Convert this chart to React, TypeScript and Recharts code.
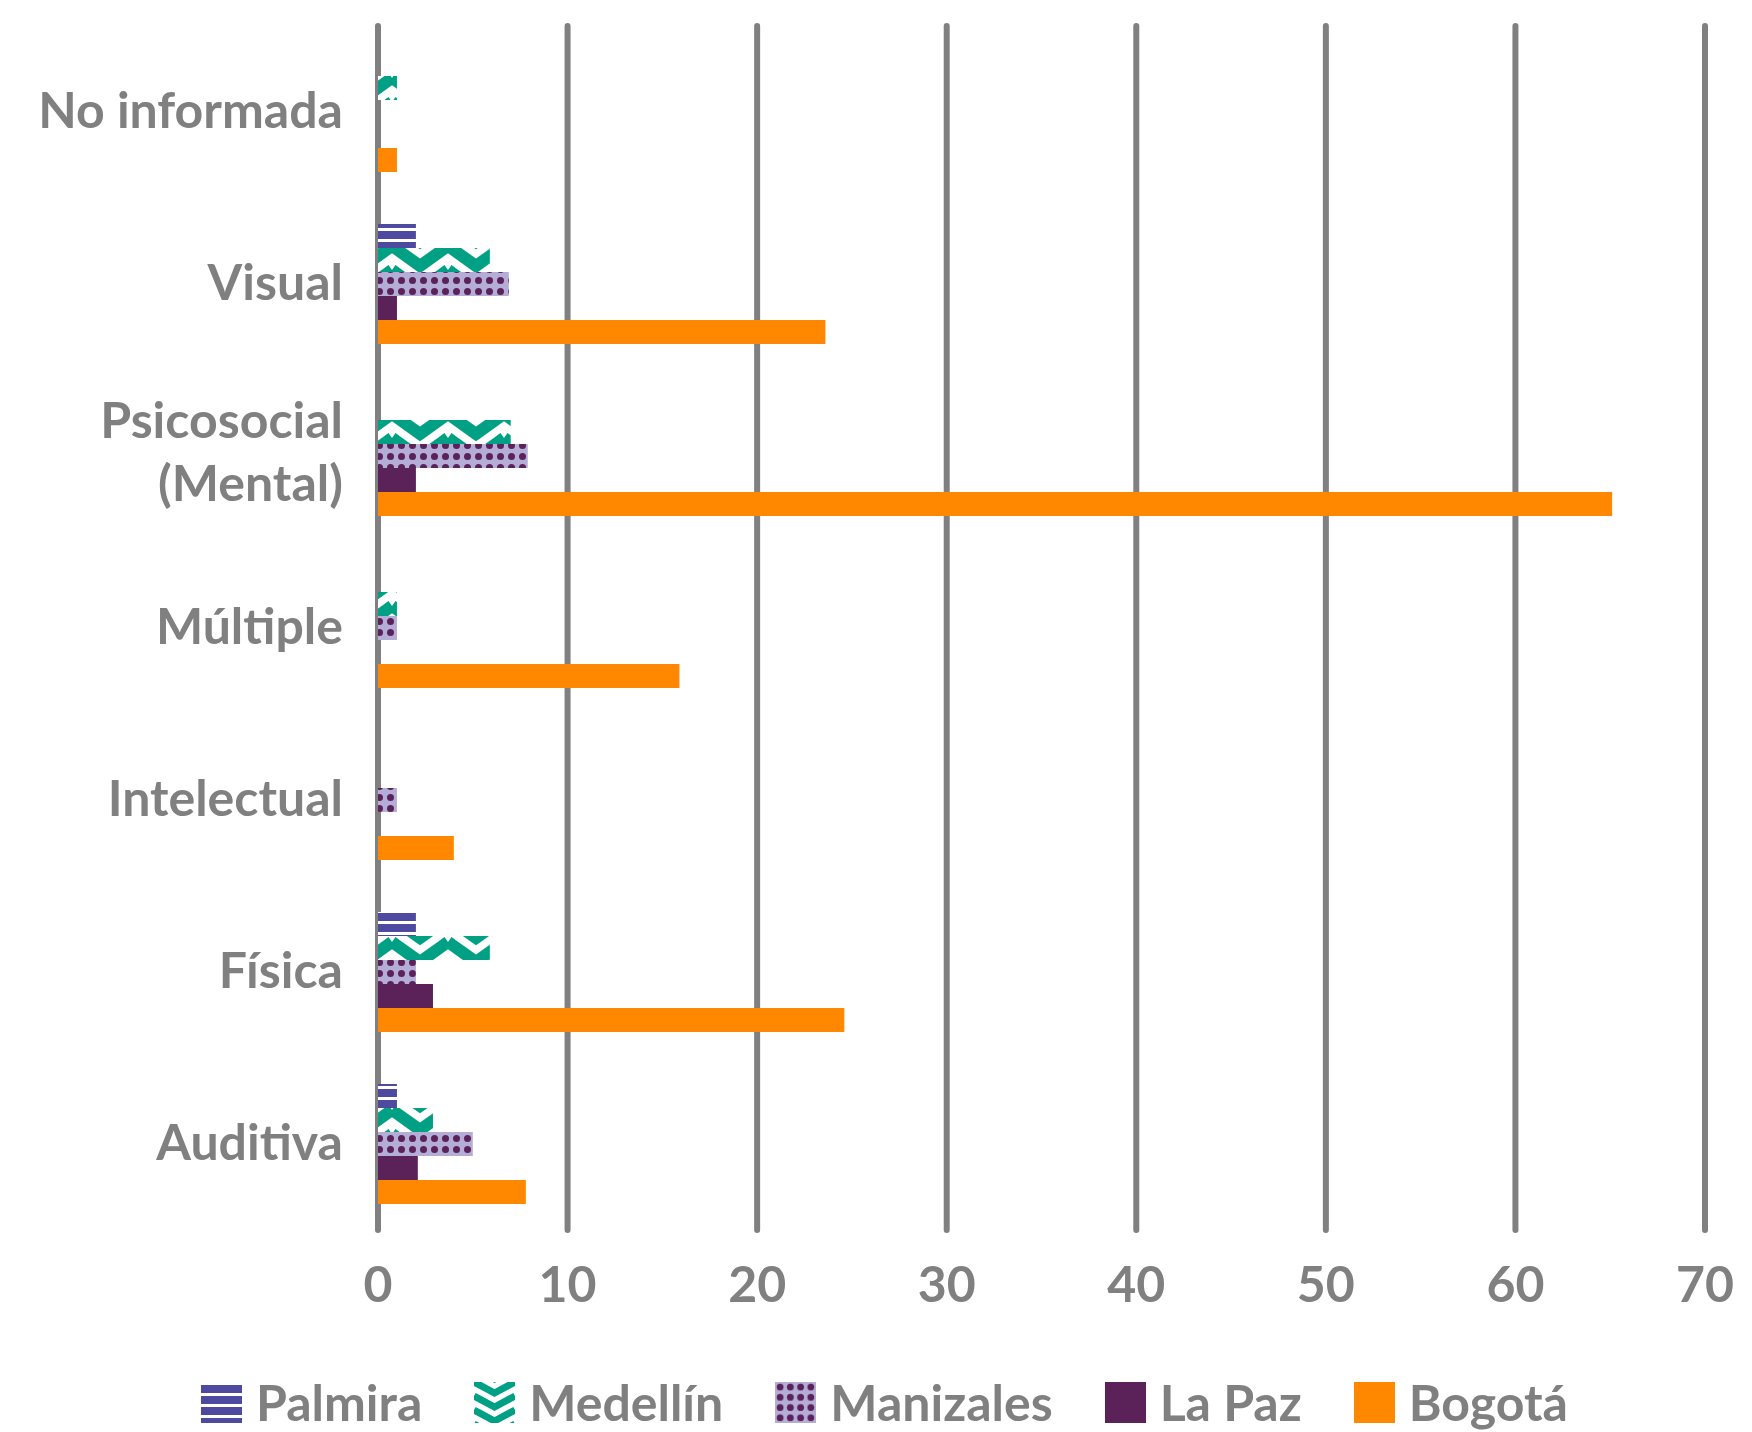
import React from 'react';
import { BarChart, Bar, XAxis, YAxis, CartesianGrid, Legend } from 'recharts';

const categories = ['No informada', 'Visual', 'Psicosocial (Mental)', 'Múltiple', 'Intelectual', 'Física', 'Auditiva'];
const palmira = [0, 2.0, 0, 0, 0, 2.0, 1.0];
const medellin = [1.0, 5.9, 7.0, 1.0, 0, 5.9, 2.9];
const manizales = [0, 6.9, 7.9, 1.0, 1.0, 2.0, 5.0];
const laPaz = [0, 1.0, 2.0, 0, 0, 2.9, 2.1];
const bogota = [1.0, 23.6, 65.1, 15.9, 4.0, 24.6, 7.8];
const xTicks = [0, 10, 20, 30, 40, 50, 60, 70];
const seriesNames = ['Palmira', 'Medellín', 'Manizales', 'La Paz', 'Bogotá'];

const data = categories.map((name, i) => ({
  name,
  Palmira: palmira[i],
  'Medellín': medellin[i],
  Manizales: manizales[i],
  'La Paz': laPaz[i],
  'Bogotá': bogota[i],
}));

const GRAY = '#808080';
const INDIGO = '#4E4A9F';
const TEAL = '#00A085';
const LAVENDER = '#B4ADD8';
const PURPLE = '#5B2159';
const ORANGE = '#FF8800';
const FONT = 'Lato, "Noto Sans", sans-serif';

const fills: Record<string, string> = {
  Palmira: 'url(#pat-palmira)',
  'Medellín': 'url(#pat-medellin)',
  Manizales: 'url(#pat-manizales)',
  'La Paz': PURPLE,
  'Bogotá': ORANGE,
};

function YTick(props: any) {
  const { x, y, payload } = props;
  const tx = x - 35;
  const parts = String(payload.value).split(' (');
  const common = { fill: GRAY, fontFamily: FONT, fontWeight: 700, fontSize: 50, textAnchor: 'end' as const };
  if (parts.length > 1) {
    return (
      <text x={tx} y={y} {...common}>
        <tspan x={tx} dy={-18}>{parts[0]}</tspan>
        <tspan x={tx} dy={63}>{'(' + parts[1]}</tspan>
      </text>
    );
  }
  return (
    <text x={tx} y={y + 16} {...common}>
      {payload.value}
    </text>
  );
}

function XTick(props: any) {
  const { x, y, payload } = props;
  return (
    <text x={x} y={y + 72} fill={GRAY} fontFamily={FONT} fontWeight={700} fontSize={50} textAnchor="middle">
      {payload.value}
    </text>
  );
}

function LegendIcon({ name }: { name: string }) {
  const id = 'lg-' + name.replace(/[^a-zA-Z]/g, '');
  let defs: React.ReactNode = null;
  let fill = fills[name];
  if (name === 'Palmira') {
    defs = (
      <pattern id={id} width={41} height={11} patternUnits="userSpaceOnUse">
        <rect width={41} height={11} fill="#fff" />
        <rect y={3} width={41} height={8} fill={INDIGO} />
      </pattern>
    );
    fill = `url(#${id})`;
  } else if (name === 'Medellín') {
    defs = (
      <pattern id={id} width={41} height={14} patternUnits="userSpaceOnUse">
        <rect width={41} height={14} fill="#fff" />
        <polyline points="0,-14 20.5,-3 41,-14" fill="none" stroke={TEAL} strokeWidth={7} />
        <polyline points="0,0 20.5,11 41,0" fill="none" stroke={TEAL} strokeWidth={7} />
        <polyline points="0,14 20.5,25 41,14" fill="none" stroke={TEAL} strokeWidth={7} />
      </pattern>
    );
    fill = `url(#${id})`;
  } else if (name === 'Manizales') {
    defs = (
      <pattern id={id} width={10.25} height={10.25} patternUnits="userSpaceOnUse">
        <rect width={10.25} height={10.25} fill={LAVENDER} />
        <circle cx={5.1} cy={5.1} r={3.4} fill={PURPLE} />
      </pattern>
    );
    fill = `url(#${id})`;
  }
  return (
    <svg width={41} height={41} style={{ marginRight: 14, flex: 'none' }}>
      <defs>{defs}</defs>
      <rect width={41} height={41} fill={fill} />
    </svg>
  );
}

function LegendContent() {
  return (
    <div
      style={{
        display: 'flex',
        alignItems: 'flex-start',
        height: 80,
        paddingTop: 25,
        paddingLeft: 201,
        boxSizing: 'border-box',
        fontFamily: FONT,
        fontWeight: 700,
        fontSize: 50,
        color: GRAY,
      }}
    >
      {seriesNames.map((n) => (
        <div key={n} style={{ display: 'flex', alignItems: 'center', height: 50, marginRight: 52 }}>
          <LegendIcon name={n} />
          <span style={{ lineHeight: '50px', whiteSpace: 'nowrap' }}>{n}</span>
        </div>
      ))}
    </div>
  );
}

export default function App() {
  return (
    <div style={{ position: 'absolute', left: 0, top: 0, width: 1752, height: 1432, background: '#fff' }}>
      <BarChart
        width={1752}
        height={1432}
        data={data}
        layout="vertical"
        margin={{ top: 26, right: 47, bottom: 0, left: 48 }}
        barGap={0}
        barSize={24}
      >
        <defs>
          <pattern id="pat-palmira" width={20} height={11} patternUnits="userSpaceOnUse">
            <rect width={20} height={11} fill="#fff" />
            <rect y={0} width={20} height={8} fill={INDIGO} />
          </pattern>
          <pattern id="pat-medellin" width={56} height={24} patternUnits="userSpaceOnUse" y={6}>
            <rect width={56} height={24} fill="#fff" />
            <polyline points="0,-24 28,-4 56,-24" fill="none" stroke={TEAL} strokeWidth={12} />
            <polyline points="0,0 28,20 56,0" fill="none" stroke={TEAL} strokeWidth={12} />
            <polyline points="0,24 28,44 56,24" fill="none" stroke={TEAL} strokeWidth={12} />
          </pattern>
          <pattern id="pat-manizales" width={11} height={11} patternUnits="userSpaceOnUse">
            <rect width={11} height={11} fill={LAVENDER} />
            <circle cx={5.5} cy={5.5} r={3.5} fill={PURPLE} />
          </pattern>
        </defs>
        <CartesianGrid horizontal={false} vertical stroke={GRAY} strokeWidth={6} strokeLinecap="round" />
        <XAxis
          type="number"
          domain={[0, 70]}
          ticks={xTicks}
          axisLine={false}
          tickLine={false}
          tickSize={0}
          tickMargin={0}
          height={122}
          tick={<XTick />}
          interval={0}
        />
        <YAxis
          type="category"
          dataKey="name"
          width={330}
          axisLine={false}
          tickLine={false}
          tickSize={0}
          tickMargin={0}
          tick={<YTick />}
          interval={0}
        />
        <Legend
          verticalAlign="bottom"
          content={<LegendContent />}
          wrapperStyle={{ left: 0, width: 1752, bottom: 0, height: 80 }}
        />
        {seriesNames.map((n) => (
          <Bar key={n} dataKey={n} fill={fills[n]} isAnimationActive={false} />
        ))}
      </BarChart>
    </div>
  );
}
